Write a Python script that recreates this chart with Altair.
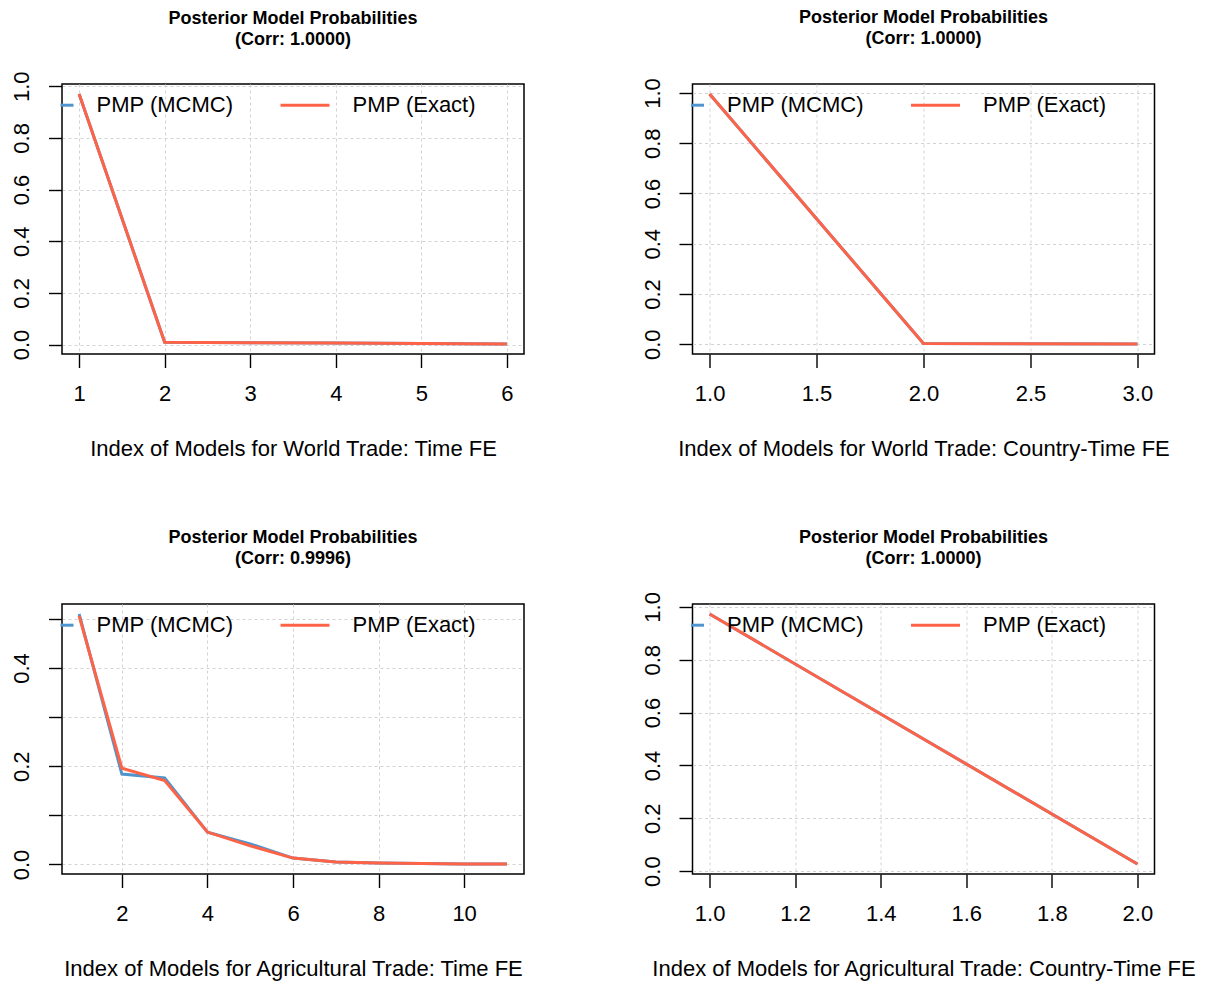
import altair as alt
import pandas as pd

FONT = "Liberation Sans, Arial, Helvetica, sans-serif"
SERIES = ["PMP (MCMC)", "PMP (Exact)"]
COLORS = ["#4F94CD", "#FF6347"]
MAIN_TITLE = "Posterior Model Probabilities"

# Panel 1: World Trade, Time FE
x_wt_time = [1, 2, 3, 4, 5, 6]
mcmc_wt_time = [0.970, 0.009, 0.007, 0.006, 0.004, 0.002]
exact_wt_time = [0.970, 0.009, 0.007, 0.006, 0.004, 0.002]
xticks_wt_time = [1, 2, 3, 4, 5, 6]
yticks_wt_time = [0.0, 0.2, 0.4, 0.6, 0.8, 1.0]
corr_wt_time = "(Corr: 1.0000)"
xtitle_wt_time = "Index of Models for World Trade: Time FE"

# Panel 2: World Trade, Country-Time FE
x_wt_ct = [1, 2, 3]
mcmc_wt_ct = [0.996, 0.003, 0.001]
exact_wt_ct = [0.996, 0.003, 0.001]
xticks_wt_ct = [1.0, 1.5, 2.0, 2.5, 3.0]
yticks_wt_ct = [0.0, 0.2, 0.4, 0.6, 0.8, 1.0]
corr_wt_ct = "(Corr: 1.0000)"
xtitle_wt_ct = "Index of Models for World Trade: Country-Time FE"

# Panel 3: Agricultural Trade, Time FE
x_ag_time = [1, 2, 3, 4, 5, 6, 7, 8, 9, 10, 11]
mcmc_ag_time = [0.510, 0.184, 0.176, 0.066, 0.042, 0.013, 0.005, 0.003, 0.002, 0.001, 0.001]
exact_ag_time = [0.506, 0.196, 0.171, 0.066, 0.038, 0.013, 0.005, 0.003, 0.002, 0.001, 0.001]
xticks_ag_time = [2, 4, 6, 8, 10]
yticks_ag_time = [0.0, 0.1, 0.2, 0.3, 0.4, 0.5]
corr_ag_time = "(Corr: 0.9996)"
xtitle_ag_time = "Index of Models for Agricultural Trade: Time FE"

# Panel 4: Agricultural Trade, Country-Time FE
x_ag_ct = [1, 2]
mcmc_ag_ct = [0.973, 0.027]
exact_ag_ct = [0.973, 0.027]
xticks_ag_ct = [1.0, 1.2, 1.4, 1.6, 1.8, 2.0]
yticks_ag_ct = [0.0, 0.2, 0.4, 0.6, 0.8, 1.0]
corr_ag_ct = "(Corr: 1.0000)"
xtitle_ag_ct = "Index of Models for Agricultural Trade: Country-Time FE"

W, H = 462, 270


def padded(vals):
    lo, hi = min(vals), max(vals)
    r = hi - lo
    return [lo - 0.04 * r, hi + 0.04 * r]


def panel(xs, mcmc, exact, xticks, xfmt, yticks, ylabexpr, xtitle, corr, title_offset):
    df = pd.DataFrame({
        "x": list(xs) + list(xs),
        "y": list(mcmc) + list(exact),
        "series": [SERIES[0]] * len(xs) + [SERIES[1]] * len(xs),
    })
    legend = alt.Legend(
        title=None, orient="none", legendX=-39, legendY=-4.8,
        direction="horizontal", columns=2,
        symbolType=alt.ExprRef(expr="datum.value == 'PMP (MCMC)' ? 'M0.47,0L1,0' : 'stroke'"),
        symbolSize=2401, symbolStrokeWidth=3,
        labelFontSize=22, labelFont=FONT, labelColor="black",
        labelOffset=21.5, columnPadding=40, padding=0,
    )
    xaxis = alt.Axis(values=xticks, format=xfmt, title=xtitle,
                     titleY=94.5, titleBaseline="middle",
                     labelBaseline="top", labelPadding=16.3)
    ykw = dict(values=yticks, title=None, labelAngle=270, labelAlign="center",
               labelBaseline="alphabetic", labelPadding=20)
    if ylabexpr:
        ykw["labelExpr"] = ylabexpr
    yaxis = alt.Axis(**ykw)
    base = alt.Chart(df).mark_line(strokeWidth=3).encode(
        x=alt.X("x:Q", scale=alt.Scale(domain=padded(xs), nice=False, zero=False), axis=xaxis),
        y=alt.Y("y:Q", scale=alt.Scale(domain=padded(list(mcmc) + list(exact)), nice=False, zero=False),
                axis=yaxis),
        color=alt.Color("series:N", scale=alt.Scale(domain=SERIES, range=COLORS), legend=legend),
    )
    blue = base.transform_filter(alt.datum.series == SERIES[0])
    red = base.transform_filter(alt.datum.series == SERIES[1])
    return alt.layer(blue, red).properties(
        width=W, height=H,
        title=alt.TitleParams(
            text=[MAIN_TITLE, corr], fontSize=18, fontWeight="bold", font=FONT,
            color="black", anchor="middle", lineHeight=21, offset=title_offset,
        ),
    )


p1 = panel(x_wt_time, mcmc_wt_time, exact_wt_time, xticks_wt_time, "d", yticks_wt_time,
           None, xtitle_wt_time, corr_wt_time, 22.3)
p2 = panel(x_wt_ct, mcmc_wt_ct, exact_wt_ct, xticks_wt_ct, ".1f", yticks_wt_ct,
           None, xtitle_wt_ct, corr_wt_ct, 29.5)
p3 = panel(x_ag_time, mcmc_ag_time, exact_ag_time, xticks_ag_time, "d", yticks_ag_time,
           "round(datum.value * 10) % 2 == 0 ? format(datum.value, '.1f') : ''",
           xtitle_ag_time, corr_ag_time, 31.5)
p4 = panel(x_ag_ct, mcmc_ag_ct, exact_ag_ct, xticks_ag_ct, ".1f", yticks_ag_ct,
           None, xtitle_ag_ct, corr_ag_ct, 24)

row1 = alt.hconcat(p1, p2, spacing=114.5).resolve_scale(color="independent").resolve_legend(color="independent")
row2 = alt.hconcat(p3, p4, spacing=114.5).resolve_scale(color="independent").resolve_legend(color="independent")

chart = alt.vconcat(row1, row2, spacing=66).resolve_scale(color="independent").resolve_legend(
    color="independent"
).properties(
    padding={"left": 1, "top": 0, "right": 0, "bottom": 0},
    background="white",
).configure_view(
    stroke="black", strokeWidth=1.5,
).configure_axis(
    grid=True, gridColor="#D3D3D3", gridDash=[3, 3], gridWidth=1,
    domain=False, tickColor="black", tickSize=13.5, tickWidth=1.4,
    labelFontSize=22, labelFont=FONT, labelColor="black",
    titleFontSize=22, titleFont=FONT, titleFontWeight="normal", titleColor="black",
)

chart.save("out.html", embed_options={"renderer": "svg", "actions": False})
